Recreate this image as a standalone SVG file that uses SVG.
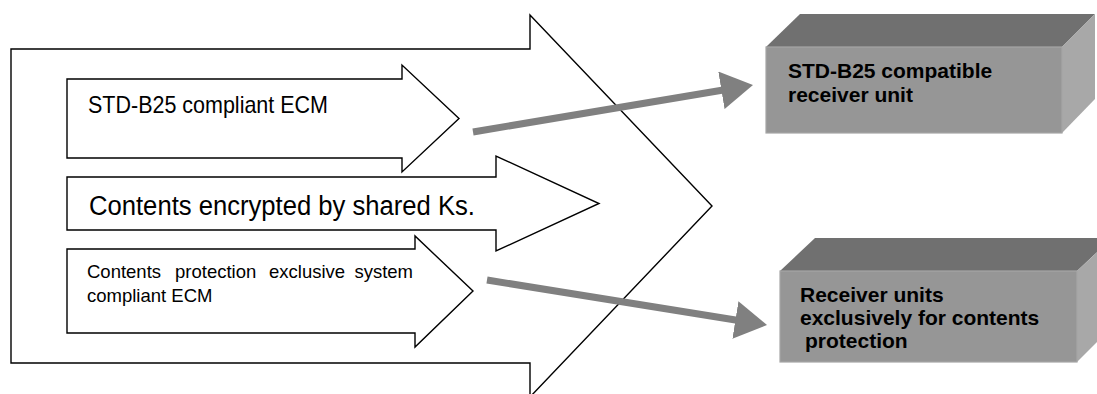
<svg xmlns="http://www.w3.org/2000/svg" width="1097" height="394" viewBox="0 0 1097 394">
  <style>
    .outline { fill: #ffffff; stroke: #000000; stroke-width: 1.4; stroke-linejoin: miter; }
    .lbl { font-family: "Liberation Sans", Arial, sans-serif; fill: #000000; }
    .blbl { font-family: "Liberation Sans", Arial, sans-serif; font-weight: bold; font-size: 21px; fill: #000000; }
    .face-front { fill: #969696; stroke: #a6a6a6; stroke-width: 1.2; }
    .face-top { fill: #707070; }
    .face-side { fill: #a8a8a8; }
    .link { stroke: #808080; stroke-width: 7; fill: none; }
  </style>
  <defs>
    <marker id="head" viewBox="0 0 32 38" refX="8" refY="19" markerWidth="32" markerHeight="38" markerUnits="userSpaceOnUse" orient="auto">
      <path d="M0,0 L32,19 L0,38 z" fill="#808080"/>
    </marker>
  </defs>

  <rect x="0" y="0" width="1097" height="394" fill="#ffffff"/>

  <!-- large enclosing block arrow -->
  <g id="stream">
    <polygon class="outline" points="11,49 530,49 530,15 712,206 530,397 530,363 11,363"/>
  </g>

  <!-- inner block arrows -->
  <g id="ecm-b25">
    <polygon class="outline" points="67,79 402,79 402,65 459,118.5 402,172 402,158 67,158"/>
    <text class="lbl" x="88" y="113" font-size="24" textLength="240" lengthAdjust="spacingAndGlyphs">STD-B25 compliant ECM</text>
  </g>

  <g id="contents">
    <polygon class="outline" points="67,177 496,177 496,156 599,203.5 496,251 496,230 67,230"/>
    <text class="lbl" x="89" y="215" font-size="27" textLength="386" lengthAdjust="spacingAndGlyphs">Contents encrypted by shared Ks.</text>
  </g>

  <g id="ecm-exclusive">
    <polygon class="outline" points="67,249 415,249 415,236 473,291 415,347 415,333 67,333"/>
    <text class="lbl" font-size="18.5">
      <tspan x="87" y="278">Contents</tspan>
      <tspan x="175" y="278">protection</tspan>
      <tspan x="269" y="278">exclusive</tspan>
      <tspan x="413" y="278" text-anchor="end">system</tspan>
    </text>
    <text class="lbl" x="87" y="302" font-size="18.5">compliant ECM</text>
  </g>

  <!-- receiver boxes -->
  <g id="receiver-b25">
    <polygon class="face-top" points="766,47 800,14 1095,14 1062,47"/>
    <polygon class="face-side" points="1062,47 1095,14 1095,99 1062,133"/>
    <rect class="face-front" x="766" y="47" width="296" height="86"/>
    <text class="blbl" x="788" y="78">STD-B25 compatible</text>
    <text class="blbl" x="788" y="102">receiver unit</text>
  </g>

  <g id="receiver-exclusive">
    <polygon class="face-top" points="780,271 815,238 1112,238 1077,271"/>
    <polygon class="face-side" points="1077,271 1112,238 1112,327 1077,362"/>
    <rect class="face-front" x="780" y="271" width="297" height="91"/>
    <text class="blbl" x="800" y="302">Receiver units</text>
    <text class="blbl" x="800" y="325">exclusively for contents</text>
    <text class="blbl" x="805" y="348">protection</text>
  </g>

  <!-- connectors -->
  <g id="connectors">
    <line class="link" x1="473" y1="132" x2="729.3" y2="89" marker-end="url(#head)"/>
    <line class="link" x1="487" y1="280" x2="743.3" y2="321.2" marker-end="url(#head)"/>
  </g>
</svg>
